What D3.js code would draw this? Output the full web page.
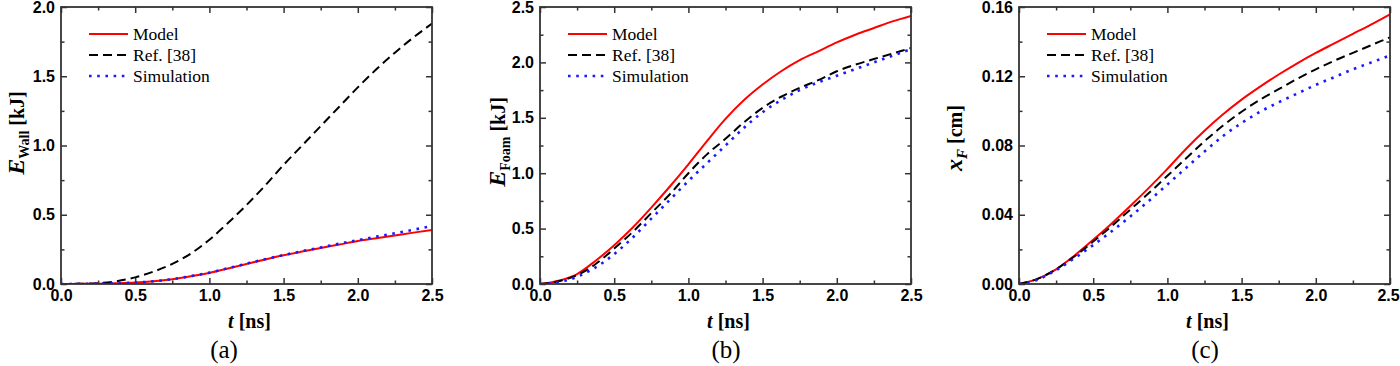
<!DOCTYPE html>
<html><head><meta charset="utf-8">
<script src="https://cdn.jsdelivr.net/npm/d3@7"></script>
<style>
html,body{margin:0;padding:0;background:#fff;}
svg{display:block;}
.tick text{font-family:"Liberation Sans",Arial,sans-serif;font-weight:bold;font-size:16px;fill:#000;}
</style>
</head><body>
<svg id="chart" width="1400" height="366"></svg>
<script>
// ---------- DATA ----------
const tValues = [0, 0.125, 0.25, 0.375, 0.5, 0.625, 0.75, 0.875, 1.0, 1.125, 1.25, 1.375, 1.5, 1.625, 1.75, 1.875, 2.0, 2.125, 2.25, 2.375, 2.5];
const seriesNames = ["Model", "Ref. [38]", "Simulation"];

// (a) E_Wall [kJ]
const wallModel = [0, 0.001, 0.002, 0.005, 0.01, 0.02, 0.035, 0.056, 0.08, 0.112, 0.145, 0.177, 0.207, 0.234, 0.26, 0.285, 0.31, 0.331, 0.351, 0.371, 0.39];
const wallRef   = [0, 0.002, 0.006, 0.02, 0.048, 0.09, 0.145, 0.22, 0.32, 0.44, 0.57, 0.71, 0.86, 1.0, 1.14, 1.28, 1.42, 1.55, 1.67, 1.78, 1.88];
const wallSim   = [0, 0.001, 0.002, 0.005, 0.01, 0.02, 0.035, 0.057, 0.082, 0.114, 0.147, 0.179, 0.209, 0.237, 0.264, 0.291, 0.317, 0.342, 0.367, 0.392, 0.418];

// (b) E_Foam [kJ]
const foamModel = [0, 0.03, 0.09, 0.21, 0.35, 0.51, 0.69, 0.88, 1.08, 1.29, 1.49, 1.66, 1.80, 1.92, 2.02, 2.10, 2.18, 2.25, 2.31, 2.37, 2.42];
const foamRef   = [0, 0.025, 0.08, 0.18, 0.32, 0.47, 0.64, 0.81, 1.0, 1.17, 1.31, 1.46, 1.59, 1.69, 1.77, 1.84, 1.92, 1.98, 2.03, 2.08, 2.13];
const foamSim   = [0, 0.015, 0.065, 0.15, 0.27, 0.42, 0.59, 0.76, 0.93, 1.09, 1.25, 1.41, 1.55, 1.66, 1.75, 1.82, 1.88, 1.94, 2.00, 2.06, 2.12];

// (c) x_F [cm]
const xfModel = [0, 0.003, 0.0085, 0.0165, 0.0255, 0.035, 0.045, 0.0555, 0.0665, 0.078, 0.0885, 0.098, 0.1065, 0.114, 0.121, 0.1275, 0.1335, 0.139, 0.1445, 0.15, 0.1558];
const xfRef   = [0, 0.003, 0.0085, 0.016, 0.0245, 0.0335, 0.043, 0.0525, 0.0625, 0.0725, 0.0825, 0.0915, 0.0995, 0.1065, 0.1125, 0.1185, 0.124, 0.129, 0.1335, 0.138, 0.1425];
const xfSim   = [0, 0.0025, 0.008, 0.015, 0.0225, 0.0305, 0.039, 0.048, 0.0575, 0.067, 0.0765, 0.0855, 0.093, 0.0995, 0.105, 0.11, 0.115, 0.1195, 0.124, 0.128, 0.132];

// ticks
const xMajorTicks = [0, 0.5, 1.0, 1.5, 2.0, 2.5];
const xMinorTicks = [0.25, 0.75, 1.25, 1.75, 2.25];
const wallYTicks = [0, 0.5, 1.0, 1.5, 2.0];
const wallYMinor = [0.25, 0.75, 1.25, 1.75];
const foamYTicks = [0, 0.5, 1.0, 1.5, 2.0, 2.5];
const foamYMinor = [0.25, 0.75, 1.25, 1.75, 2.25];
const xfYTicks = [0, 0.04, 0.08, 0.12, 0.16];
const xfYMinor = [0.02, 0.06, 0.10, 0.14];
const panelLetters = ["(a)", "(b)", "(c)"];

// ---------- LAYOUT ----------
const svg = d3.select("#chart");
const TOP = 7, BOTTOM = 284, W = 371;
const colors = ["#ff0000", "#000000", "#1a1aff"];
const dashes = [null, "9,5", "2.6,5.6"];
const serif = '"Liberation Serif","Times New Roman",serif';

const panels = [
  {left: 61, yMax: 2.0, yTicks: wallYTicks, yMinor: wallYMinor, fmt: d3.format(".1f"),
   series: [wallModel, wallRef, wallSim], labelX: 24, labelY: 133, letterX: 224,
   ylabel: [{t:"E", style:"italic", size:24}, {t:"Wall", size:14, sub:true}, {t:" [kJ]", size:20}]},
  {left: 540, yMax: 2.5, yTicks: foamYTicks, yMinor: foamYMinor, fmt: d3.format(".1f"),
   series: [foamModel, foamRef, foamSim], labelX: 505, labelY: 142, letterX: 726,
   ylabel: [{t:"E", style:"italic", size:24}, {t:"Foam", size:14, sub:true}, {t:" [kJ]", size:20}]},
  {left: 1019, yMax: 0.16, yTicks: xfYTicks, yMinor: xfYMinor, fmt: d3.format(".2f"),
   series: [xfModel, xfRef, xfSim], labelX: 962, labelY: 138, letterX: 1205,
   ylabel: [{t:"x", style:"italic", size:24}, {t:"F", style:"italic", size:15, sub:true}, {t:" [cm]", size:20}]}
];

panels.forEach((p, pi) => {
  const x = d3.scaleLinear().domain([0, 2.5]).range([p.left, p.left + W]);
  const y = d3.scaleLinear().domain([0, p.yMax]).range([BOTTOM, TOP]);
  const g = svg.append("g");

  function styleAxis(sel) {
    sel.select(".domain").remove();
    sel.selectAll(".tick line").attr("stroke", "#333").attr("stroke-width", 1.5);
  }
  // bottom major with labels
  const bx = g.append("g").attr("transform", `translate(0,${BOTTOM})`)
    .call(d3.axisBottom(x).tickValues(xMajorTicks).tickSize(-6).tickPadding(6).tickFormat(d3.format(".1f")))
    .call(styleAxis);
  if (pi === 2) {
    bx.selectAll(".tick text").filter(d => d === 2.5).attr("dx", -2);
  }
  g.append("g").attr("transform", `translate(0,${BOTTOM})`)
    .call(d3.axisBottom(x).tickValues(xMinorTicks).tickSize(-3.5).tickFormat(""))
    .call(styleAxis);
  // top
  g.append("g").attr("transform", `translate(0,${TOP})`)
    .call(d3.axisTop(x).tickValues(xMajorTicks).tickSize(-6).tickFormat(""))
    .call(styleAxis);
  g.append("g").attr("transform", `translate(0,${TOP})`)
    .call(d3.axisTop(x).tickValues(xMinorTicks).tickSize(-3.5).tickFormat(""))
    .call(styleAxis);
  // left
  g.append("g").attr("transform", `translate(${p.left},0)`)
    .call(d3.axisLeft(y).tickValues(p.yTicks).tickSize(-6).tickPadding(6).tickFormat(p.fmt))
    .call(styleAxis);
  g.append("g").attr("transform", `translate(${p.left},0)`)
    .call(d3.axisLeft(y).tickValues(p.yMinor).tickSize(-3.5).tickFormat(""))
    .call(styleAxis);
  // right
  g.append("g").attr("transform", `translate(${p.left + W},0)`)
    .call(d3.axisRight(y).tickValues(p.yTicks).tickSize(-6).tickFormat(""))
    .call(styleAxis);
  g.append("g").attr("transform", `translate(${p.left + W},0)`)
    .call(d3.axisRight(y).tickValues(p.yMinor).tickSize(-3.5).tickFormat(""))
    .call(styleAxis);

  g.selectAll(".tick text").attr("fill", "#000");

  // clip
  const clipId = "clip" + pi;
  svg.append("clipPath").attr("id", clipId).append("rect")
    .attr("x", p.left).attr("y", TOP).attr("width", W).attr("height", BOTTOM - TOP);

  const line = d3.line().x((d, i) => x(tValues[i])).y(d => y(d)).curve(d3.curveMonotoneX);
  p.series.forEach((vals, si) => {
    g.append("path").datum(vals)
      .attr("clip-path", `url(#${clipId})`)
      .attr("d", line)
      .attr("fill", "none")
      .attr("stroke", colors[si])
      .attr("stroke-width", si === 2 ? 2.6 : 2)
      .attr("stroke-dasharray", dashes[si]);
  });

  // frame
  g.append("rect").attr("x", p.left).attr("y", TOP).attr("width", W).attr("height", BOTTOM - TOP)
    .attr("fill", "none").attr("stroke", "#333").attr("stroke-width", 1.8);

  // legend
  const legY = [34, 55, 76];
  seriesNames.forEach((name, si) => {
    g.append("line").attr("x1", p.left + 28).attr("x2", p.left + 67)
      .attr("y1", legY[si]).attr("y2", legY[si])
      .attr("stroke", colors[si]).attr("stroke-width", si === 2 ? 2.6 : 2)
      .attr("stroke-dasharray", dashes[si]);
    g.append("text").attr("x", p.left + 72).attr("y", legY[si] + 6)
      .attr("font-family", serif).attr("font-size", 17.5).attr("fill", "#000").text(name);
  });

  // x axis title
  const xt = g.append("text").attr("x", p.left + W / 2 + 3).attr("y", 328)
    .attr("text-anchor", "middle").attr("font-family", serif).attr("font-weight", "bold").attr("font-size", 20);
  xt.append("tspan").attr("font-style", "italic").text("t");
  xt.append("tspan").text(" [ns]");

  // y axis title
  const yt = g.append("text")
    .attr("transform", `translate(${p.labelX},${p.labelY}) rotate(-90)`)
    .attr("text-anchor", "middle").attr("font-family", serif).attr("font-weight", "bold");
  let shifted = 0;
  p.ylabel.forEach(part => {
    const ts = yt.append("tspan").attr("font-size", part.size).text(part.t);
    if (part.style) ts.attr("font-style", part.style);
    if (part.sub) { ts.attr("dy", 5); shifted = 5; }
    else if (shifted) { ts.attr("dy", -shifted); shifted = 0; }
  });

  // panel letter
  g.append("text").attr("x", p.letterX).attr("y", 358).attr("text-anchor", "middle")
    .attr("font-family", serif).attr("font-size", 25).attr("fill", "#000").text(panelLetters[pi]);
});
</script>
</body></html>
